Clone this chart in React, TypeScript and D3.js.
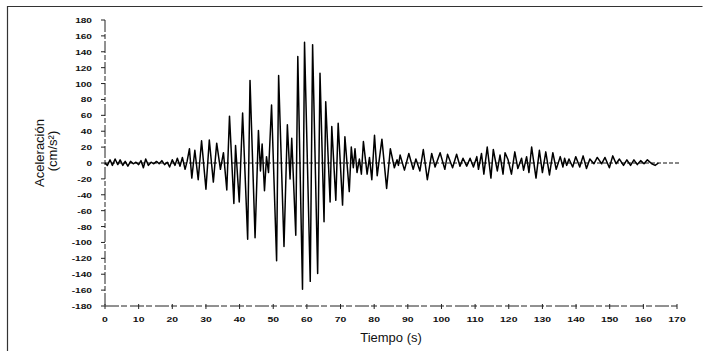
import * as d3 from 'd3';
import * as React from 'react';

// time (s) and acceleration (cm/s²), peak by peak
const timeSec = [
  0, 0.7, 1.5, 2.2, 3.0, 3.8, 4.5, 5.3, 6.0, 6.8, 7.6, 8.4, 9.2, 10.0, 10.7, 11.4, 12.1, 12.9, 13.7, 14.5,
  15.3, 16.1, 16.9, 17.7, 18.5, 19.2, 20.0, 20.8, 21.5, 22.3, 23.0, 23.8, 24.4, 25.1, 25.8, 26.7, 27.7, 28.7,
  30.0, 31.0, 32.2, 33.2, 34.3, 35.2, 36.2, 37.0, 38.3, 38.8, 39.9, 40.9, 42.4, 43.1, 44.6, 45.6, 46.2, 46.7,
  47.4, 48.0, 48.6, 49.5, 51.0, 51.6, 53.2, 54.2, 55.0, 55.5, 56.7, 57.3, 58.7, 59.3, 61.0, 61.7, 63.2, 63.9,
  65.1, 65.6, 66.9, 67.4, 68.6, 69.3, 70.6, 71.3, 72.6, 73.2, 73.8, 74.3, 74.9, 75.6, 76.2, 76.8, 77.9, 78.6,
  79.3, 80.1, 80.9, 82.3, 83.7, 84.8, 86.0, 86.8, 87.2, 87.7, 89.0, 90.3, 91.6, 92.4, 93.6, 94.6, 95.8, 97.1,
  98.1, 99.6, 101.0, 101.8, 103.3, 104.5, 105.5, 106.4, 107.5, 108.5, 109.5, 110.5, 111.0, 111.9, 112.6, 113.6,
  114.7, 115.4, 116.6, 117.4, 118.3, 118.9, 119.8, 120.8, 121.8, 122.7, 123.8, 124.4, 125.3, 126.0, 126.8, 128.1,
  129.1, 130.0, 131.0, 132.1, 133.1, 134.1, 135.3, 136.1, 136.6, 137.2, 137.9, 139.0, 139.9, 141.1, 142.1, 143.1,
  144.1, 145.3, 146.3, 147.6, 148.6, 149.9, 150.9, 151.9, 152.9, 154.1, 155.1, 156.2, 157.2, 158.2, 159.2, 160.2,
  161.2, 162.5, 163.5, 164.5,
];
const accel = [
  0, -3, 4, -3, 5, -2, 4, -3, 2, -4, 2, -1, 1, -2, 3, -6, 5, -3, 1, -1,
  2, -1, 3, -2, 1, -5, 4, -3, 6, -4, 7, -8, 2, 18, -19, 16, -21, 28,
  -33, 29, -24, 25, -8, 13, -34, 59, -51, 22, -49, 63, -96, 104, -94, 41, -10, 24,
  -35, 8, -12, 73, -123, 110, -105, 48, -20, 31, -91, 134, -159, 152, -149, 149, -139, 113,
  -74, 77, -49, 46, -47, 50, -53, 33, -36, 20, -6, 18, -12, 5, -14, 27, -14, 7,
  -21, 35, -16, 30, -32, 18, -6, 4, -3, 10, -9, 12, -8, 5, -10, 17, -21, 12,
  -5, 13, -8, 11, -6, 11, -4, 6, -4, 6, -5, 8, -8, 12, -14, 20,
  -19, 17, -10, 10, -14, 13, 4, -14, 14, -7, 6, -9, 8, -12, 20, -19,
  16, -12, 14, -15, 13, -8, 8, -5, 6, -3, 5, -5, 8, -5, 9, -7,
  5, -1, 7, -1, 7, -6, 9, -1, 5, -3, 4, -3, 4, -2, 3, -1,
  4, -1, -3, 0,
];
const xTicks = [0, 10, 20, 30, 40, 50, 60, 70, 80, 90, 100, 110, 120, 130, 140, 150, 160, 170];
const yTicks = [-180, -160, -140, -120, -100, -80, -60, -40, -20, 0, 20, 40, 60, 80, 100, 120, 140, 160, 180];

const W = 706;
const H = 351;

const Accelerogram = () => {
  const ref = React.useRef<SVGSVGElement | null>(null);

  React.useEffect(() => {
    if (!ref.current) {
      return;
    }
    const svg = d3.select(ref.current);
    svg.selectAll('*').remove();

    const x = d3.scaleLinear().domain([0, 170]).range([105, 677]);
    const y = d3.scaleLinear().domain([-180, 180]).range([306, 20]);
    const font = 'Arial, "Liberation Sans", sans-serif';

    // scanned page frame
    svg.append('path')
      .attr('d', `M7.5,${H} L7.5,6.5 L702.5,6.5`)
      .attr('fill', 'none')
      .attr('stroke', '#333')
      .attr('stroke-width', 1.2);

    // y axis
    svg.append('line')
      .attr('x1', x(0)).attr('x2', x(0))
      .attr('y1', y(180)).attr('y2', y(-180))
      .attr('stroke', '#222')
      .attr('stroke-dasharray', '12,2,5,2');
    yTicks.forEach((d) => {
      svg.append('line')
        .attr('x1', x(0) - 4).attr('x2', x(0))
        .attr('y1', y(d)).attr('y2', y(d))
        .attr('stroke', '#222');
      const label = d < 0 ? '-' + Math.abs(d) : String(d);
      svg.append('text')
        .attr('x', 92)
        .attr('y', y(d) + 3)
        .attr('text-anchor', 'end')
        .attr('textLength', label.replace('-', '').length * 5.6 + (d < 0 ? 3.5 : 0))
        .attr('lengthAdjust', 'spacingAndGlyphs')
        .style('font-family', font)
        .style('font-weight', 'bold')
        .style('font-size', '8px')
        .style('fill', '#111')
        .text(label);
    });

    // x axis
    svg.append('line')
      .attr('x1', x(0)).attr('x2', x(170))
      .attr('y1', y(-180)).attr('y2', y(-180))
      .attr('stroke', '#222')
      .attr('stroke-dasharray', '14,2,6,3');
    xTicks.forEach((d) => {
      svg.append('line')
        .attr('x1', x(d)).attr('x2', x(d))
        .attr('y1', y(-180) - 2).attr('y2', y(-180) + 3)
        .attr('stroke', '#222');
      const label = String(d);
      svg.append('text')
        .attr('x', x(d))
        .attr('y', 322)
        .attr('text-anchor', 'middle')
        .attr('textLength', label.length * 5.8)
        .attr('lengthAdjust', 'spacingAndGlyphs')
        .style('font-family', font)
        .style('font-weight', 'bold')
        .style('font-size', '8px')
        .style('fill', '#111')
        .text(label);
    });

    // zero line
    svg.append('line')
      .attr('x1', x(0)).attr('x2', x(171))
      .attr('y1', y(0)).attr('y2', y(0))
      .attr('stroke', '#111')
      .attr('stroke-width', 1)
      .attr('stroke-dasharray', '4,2');

    // record
    const pts = timeSec.map((t, i) => [t, accel[i]] as [number, number]);
    const line = d3.line<[number, number]>()
      .x((d) => x(d[0]))
      .y((d) => y(d[1]));
    svg.append('path')
      .datum(pts)
      .attr('d', line)
      .attr('fill', 'none')
      .attr('stroke', '#000')
      .attr('stroke-width', 1.5)
      .attr('stroke-linejoin', 'round');

    // titles
    svg.append('text')
      .attr('transform', `translate(44,153) rotate(-90)`)
      .attr('text-anchor', 'middle')
      .style('font-family', font)
      .style('font-size', '13px')
      .style('fill', '#111')
      .text('Aceleración');
    svg.append('text')
      .attr('transform', `translate(57,151) rotate(-90)`)
      .attr('text-anchor', 'middle')
      .style('font-family', font)
      .style('font-size', '13px')
      .style('fill', '#111')
      .text('(cm/s²)');
    svg.append('text')
      .attr('x', 391)
      .attr('y', 342)
      .attr('text-anchor', 'middle')
      .style('font-family', font)
      .style('font-size', '13px')
      .style('fill', '#111')
      .text('Tiempo (s)');
  }, []);

  return (
    <svg
      ref={ref}
      width={W}
      height={H}
      style={{ position: 'absolute', left: 0, top: 0, background: '#fff', display: 'block' }}
    />
  );
};

export default function App() {
  return <Accelerogram />;
}
